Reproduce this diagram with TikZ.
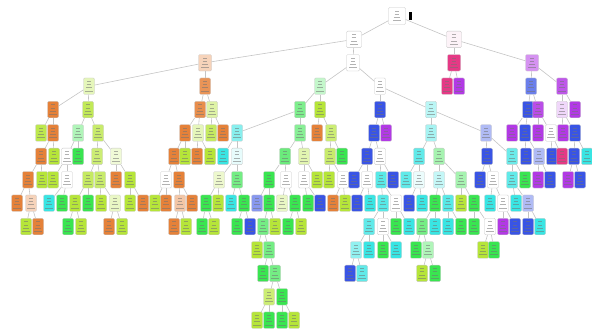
\documentclass[tikz,border=0pt]{standalone}
\definecolor{cO}{HTML}{E58139}
\definecolor{cY}{HTML}{B6E539}
\definecolor{cG}{HTML}{39E550}
\definecolor{cC}{HTML}{39E5E3}
\definecolor{cB}{HTML}{3954E5}
\definecolor{cP}{HTML}{B239E5}
\definecolor{cM}{HTML}{E53985}
\definecolor{edgegray}{HTML}{C4C4C4}
\tikzset{
  box/.style={draw=black!22, line width=0.3pt, rounded corners=1.2pt,
    minimum width=11pt, minimum height=16.5pt, inner sep=0pt,
    path picture={
      \draw[black!55, line width=0.55pt, opacity=0.55]
        ([xshift=-1.6pt,yshift=5pt]path picture bounding box.center) -- ++(3.2pt,0pt)
        ([xshift=-2.4pt,yshift=1.8pt]path picture bounding box.center) -- ++(4.8pt,0pt)
        ([xshift=-3.2pt,yshift=-1.4pt]path picture bounding box.center) -- ++(6.4pt,0pt)
        ([xshift=-4pt,yshift=-4.6pt]path picture bounding box.center) -- ++(8pt,0pt);
    }},
  bigbox/.style={box, minimum width=15pt, minimum height=16.5pt},
  rootbox/.style={box, minimum width=17pt, minimum height=17pt},
  edge/.style={draw=edgegray, line width=0.6pt}
}
\begin{document}
\begin{tikzpicture}[x=1pt,y=-1pt]
\useasboundingbox (0,0) rectangle (592,331);
% level 0 and 1
\node[rootbox, fill=white] (n0-397) at (397,16) {};
\node[fill=black, inner sep=0pt, minimum width=3pt, minimum height=8pt] (mark) at (410,16.5) {};
\node[bigbox, fill=white] (n1-354) at (354,39.4) {};
\node[bigbox, fill=cM!6] (n1-454) at (454,39.4) {};
% level 2
\foreach \x/\c in {205/cO!35, 353/white, 454/cM, 532/cP!55}
  \node[box, minimum width=13pt, fill=\c] (n2-\x) at (\x,62.8) {};
% level 3
\foreach \x/\c in {89/cY!35, 205/cO!85, 320/cG!30, 380/white, 447/cM, 459/cP, 531/cB!75, 562/cP!85}
  \node[box, fill=\c] (n3-\x) at (\x,86.2) {};
% level 4
\foreach \x/\c in {53/cO, 88/cY!85, 200/cO!90, 212/cY!45, 300/cG!65, 320/cY, 380/cB, 431/cC!35, 528/cB, 538/cP!90, 562/cP!20, 575/cP}
  \node[box, fill=\c] (n4-\x) at (\x,109.6) {};
% level 5
\foreach \x/\c in {41/cY!90, 53/cO, 78/cG!40, 98/cY!75, 185/cO, 198/cY!35, 211/cY!80, 223/cO, 237/cC!60, 300/cG!60, 317/cO, 331/cY!70, 374/cB, 386/cP, 431/cC!45, 486/cB!40, 512/cP, 525/cB, 538/cP, 551/white, 563/cP, 575/cB}
  \node[box, fill=\c] (n5-\x) at (\x,133) {};
% level 6
\foreach \x/\c in {41/cO, 54/cY, 67/white, 78/cG, 97/cY!70, 116/cY!20, 174/cO, 185/cY, 197/cO, 210/cY, 223/cC, 237/cC!12, 285/cG!75, 304/cY!40, 330/cY!75, 342/cG, 367/cB, 380/white, 419/cC!80, 439/cG!45, 487/cB, 512/cC!75, 526/cB, 539/cB!40, 552/cB, 562/cM, 574/cB, 587/cC}
  \node[box, fill=\c] (n6-\x) at (\x,156.4) {};
% level 7
\foreach \x/\c in {28/cO, 42/cY, 53/cY, 67/white, 88/cY!80, 100/cY!75, 116/cO, 130/cY, 166/white, 179/cO, 219/cY!25, 237/cG!70, 269/cG, 286/white, 304/white, 317/cY, 329/cY, 343/white, 354/cB, 367/white, 381/cC!85, 393/cB, 406/cC!80, 419/cC!10, 439/cC!30, 461/cG!45, 480/cB, 493/white, 512/cC!80, 525/cG, 538/cP, 550/cB, 568/cP, 580/cB}
  \node[box, fill=\c] (n7-\x) at (\x,179.8) {};
% level 8
\foreach \x/\c in {17/cO, 31/cO!35, 49/cC, 62/cG, 75/cY, 88/cG, 101/cY, 115/cY!30, 130/cY, 143/cO, 155/cY, 166/cO, 180/cO!45, 192/cO, 206/cG, 218/cY, 231/cC, 244/cG, 257/cB!60, 269/cG, 282/cY!30, 295/cG, 308/cG, 320/cB, 333/cO, 345/cY, 357/cB, 370/cC, 383/cC!85, 396/white, 409/cB, 422/cC, 435/cG, 448/cC!85, 461/cY, 474/cG, 490/cC, 503/white, 516/cC, 528/cB!40}
  \node[box, fill=\c] (n8-\x) at (\x,203.2) {};
% level 9
\foreach \x/\c in {26/cY, 38/cO, 68/cG, 81/cY, 109/cO, 122/cY, 174/cO, 186/cY, 202/cG, 214/cY, 237/cG, 250/cB, 263/cG!70, 275/cY, 288/cG, 301/cY, 369/cC!80, 383/white, 396/cG, 409/cC, 422/cG!70, 435/cC, 448/cC, 461/cG, 474/cG, 490/white, 503/cP, 515/cB, 528/cB, 540/cC}
  \node[box, fill=\c] (n9-\x) at (\x,226.6) {};
% level 10
\foreach \x/\c in {257/cY, 269/cG!70, 356/cC!55, 369/cC, 383/cG, 396/cC, 416/cG, 428/cG!40, 483/cY, 494/cG}
  \node[box, fill=\c] (n10-\x) at (\x,250) {};
% level 11
\foreach \x/\c in {263/cG, 275/cG!70, 350/cB, 362/cC!80, 422/cY, 435/cG}
  \node[box, fill=\c] (n11-\x) at (\x,273.4) {};
% level 12
\foreach \x/\c in {269/cY!70, 282/cG}
  \node[box, fill=\c] (n12-\x) at (\x,296.8) {};
% level 13
\foreach \x/\c in {257/cY, 269/cG, 282/cG, 294/cY}
  \node[box, fill=\c] (n13-\x) at (\x,320.2) {};
% connectors
\foreach \a/\b in {
 0-397/1-354, 0-397/1-454,
 1-354/2-205, 1-354/2-353, 1-454/2-454, 1-454/2-532,
 2-205/3-89, 2-205/3-205, 2-353/3-320, 2-353/3-380, 2-454/3-447, 2-454/3-459, 2-532/3-531, 2-532/3-562,
 3-89/4-53, 3-89/4-88, 3-205/4-200, 3-205/4-212, 3-320/4-300, 3-320/4-320, 3-380/4-380, 3-380/4-431, 3-531/4-528, 3-531/4-538, 3-562/4-562, 3-562/4-575,
 4-53/5-41, 4-53/5-53, 4-88/5-78, 4-88/5-98, 4-200/5-185, 4-200/5-198, 4-212/5-211, 4-212/5-223, 4-300/5-237, 4-300/5-300, 4-320/5-317, 4-320/5-331, 4-380/5-374, 4-380/5-386, 4-431/5-431, 4-431/5-486, 4-528/5-512, 4-528/5-525, 4-538/5-538, 4-538/5-551, 4-562/5-563, 4-562/5-575,
 5-53/6-41, 5-53/6-54, 5-78/6-67, 5-78/6-78, 5-98/6-97, 5-98/6-116, 5-185/6-174, 5-185/6-185, 5-198/6-197, 5-198/6-210, 5-237/6-223, 5-237/6-237, 5-300/6-285, 5-300/6-304, 5-331/6-330, 5-331/6-342, 5-374/6-367, 5-374/6-380, 5-431/6-419, 5-431/6-439, 5-486/6-487, 5-486/6-512, 5-525/6-526, 5-525/6-539, 5-551/6-552, 5-551/6-562, 5-575/6-574, 5-575/6-587,
 6-41/7-28, 6-41/7-42, 6-67/7-53, 6-67/7-67, 6-97/7-88, 6-97/7-100, 6-116/7-116, 6-116/7-130, 6-174/7-166, 6-174/7-179, 6-237/7-219, 6-237/7-237, 6-285/7-269, 6-285/7-286, 6-304/7-304, 6-304/7-317, 6-330/7-329, 6-330/7-343, 6-367/7-354, 6-367/7-367, 6-380/7-381, 6-380/7-393, 6-419/7-406, 6-419/7-419, 6-439/7-439, 6-439/7-461, 6-487/7-480, 6-487/7-493, 6-512/7-512, 6-512/7-525, 6-539/7-538, 6-539/7-550, 6-574/7-568, 6-574/7-580,
 7-28/8-17, 7-28/8-31, 7-67/8-49, 7-67/8-62, 7-88/8-75, 7-88/8-88, 7-100/8-101, 7-100/8-115, 7-130/8-130, 7-130/8-143, 7-166/8-155, 7-166/8-166, 7-179/8-180, 7-179/8-192, 7-219/8-206, 7-219/8-218, 7-237/8-231, 7-237/8-244, 7-269/8-257, 7-269/8-269, 7-286/8-282, 7-286/8-295, 7-304/8-308, 7-304/8-320, 7-343/8-333, 7-343/8-345, 7-367/8-357, 7-367/8-370, 7-381/8-383, 7-381/8-396, 7-419/8-409, 7-419/8-422, 7-439/8-435, 7-439/8-448, 7-461/8-461, 7-461/8-474, 7-493/8-490, 7-493/8-503, 7-512/8-516, 7-512/8-528,
 8-31/9-26, 8-31/9-38, 8-75/9-68, 8-75/9-81, 8-115/9-109, 8-115/9-122, 8-180/9-174, 8-180/9-186, 8-206/9-202, 8-206/9-214, 8-244/9-237, 8-244/9-250, 8-269/9-263, 8-269/9-275, 8-295/9-288, 8-295/9-301, 8-383/9-369, 8-383/9-383, 8-396/9-396, 8-396/9-409, 8-435/9-422, 8-435/9-435, 8-448/9-448, 8-448/9-461, 8-474/9-474, 8-474/9-490, 8-503/9-503, 8-503/9-515, 8-528/9-528, 8-528/9-540,
 9-263/10-257, 9-263/10-269, 9-369/10-356, 9-369/10-369, 9-383/10-383, 9-383/10-396, 9-422/10-416, 9-422/10-428, 9-490/10-483, 9-490/10-494,
 10-269/11-263, 10-269/11-275, 10-356/11-350, 10-356/11-362, 10-428/11-422, 10-428/11-435,
 11-275/12-269, 11-275/12-282,
 12-269/13-257, 12-269/13-269, 12-282/13-282, 12-282/13-294}
  \draw[edge] (n\a) -- (n\b);
\end{tikzpicture}
\end{document}
